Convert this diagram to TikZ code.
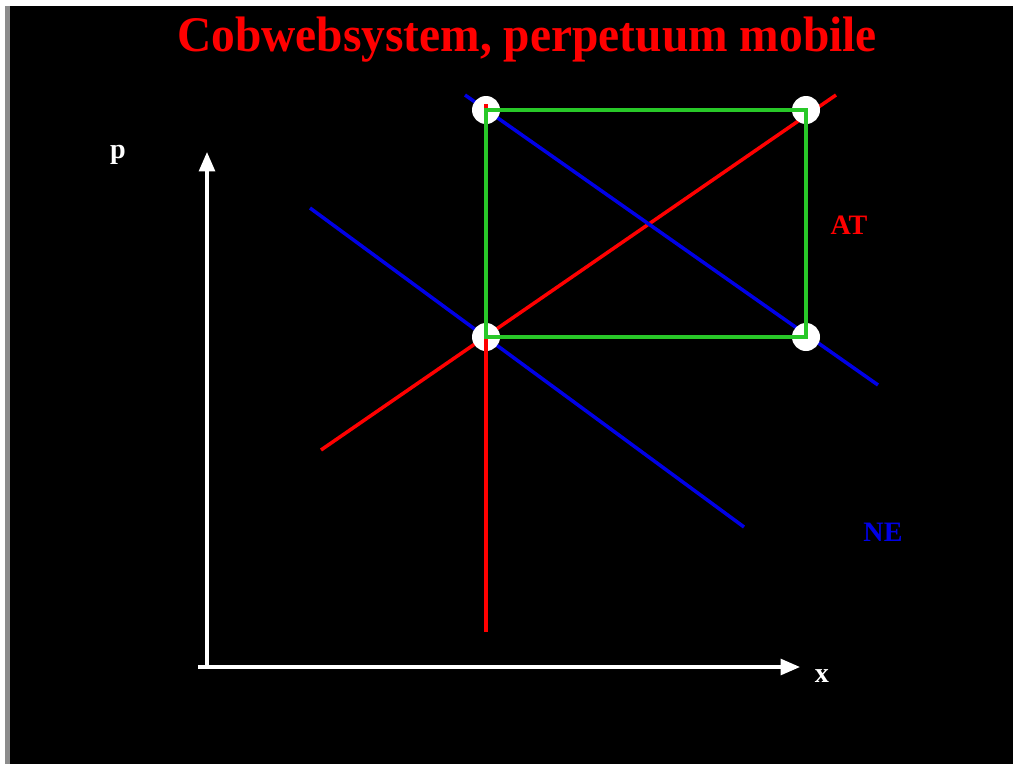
\documentclass[tikz,border=0pt]{standalone}
\usepackage{fontspec}
\setmainfont{Liberation Serif}
\usetikzlibrary{arrows.meta}
\definecolor{tred}{RGB}{255,0,0}
\definecolor{tblue}{RGB}{0,0,230}
\definecolor{tgreen}{RGB}{40,200,40}
\definecolor{tgray}{RGB}{140,140,140}
\begin{document}
\begin{tikzpicture}[x=0.02cm,y=-0.02cm,
  axis/.style={white,line width=1.8pt,-{Triangle[length=11pt,width=9pt]}},
  curve/.style={line width=2pt},
  dot/.style={circle,fill=white,minimum size=28*0.02cm,inner sep=0pt},
  lbl/.style={font=\bfseries\fontsize{16}{18}\selectfont,inner sep=0pt}]
\useasboundingbox (0,0) rectangle (1013,764);
\fill[white] (0,0) rectangle (1013,764);
\fill[tgray] (5,6) rectangle (10,764);
\fill[black] (10,6) rectangle (1013,764);
% title
\node[tred,font=\bfseries\fontsize{27}{30}\selectfont,inner sep=0pt] (title) at (527,40) {\scalebox{1.0}[1.05]{Cobwebsystem, perpetuum mobile}};
% axes
\coordinate (O) at (207,667);
\coordinate (yt) at (207,152);
\coordinate (xt) at (800,667);
\coordinate (xs) at (198,667);
\draw[axis] (O) -- (yt);
\draw[axis] (xs) -- (xt);
\node[white,lbl] (p) at (118,155) {p};
\node[white,lbl] (x) at (822,676) {x};
% lines
\coordinate (a1) at (321,450);
\coordinate (a2) at (836,95);
\coordinate (n1a) at (310,208);
\coordinate (n1b) at (744,527);
\coordinate (n2a) at (465,95);
\coordinate (n2b) at (878,385);
\coordinate (vb) at (485,632);
\draw[tred,curve] (a1) -- (a2);
\draw[tblue,curve] (n1a) -- (n1b);
\draw[tblue,curve] (n2a) -- (n2b);
% corners
\coordinate (c1) at (486,110);
\coordinate (c2) at (806,110);
\coordinate (c3) at (806,337);
\coordinate (c4) at (486,337);
\node[dot] (d1) at (c1) {};
\node[dot] (d2) at (c2) {};
\node[dot] (d3) at (c3) {};
\node[dot] (d4) at (c4) {};
\draw[tred,curve] (486,337) -- (486,632);
\draw[tred,curve] (486,104) -- (486,118);
\draw[tgreen,curve] (c1) -- (c2) -- (c3) -- (c4) -- cycle;
% labels
\node[tred,lbl] (at) at (849,225) {AT};
\node[tblue,lbl] (ne) at (883,532) {NE};
\end{tikzpicture}
\end{document}
